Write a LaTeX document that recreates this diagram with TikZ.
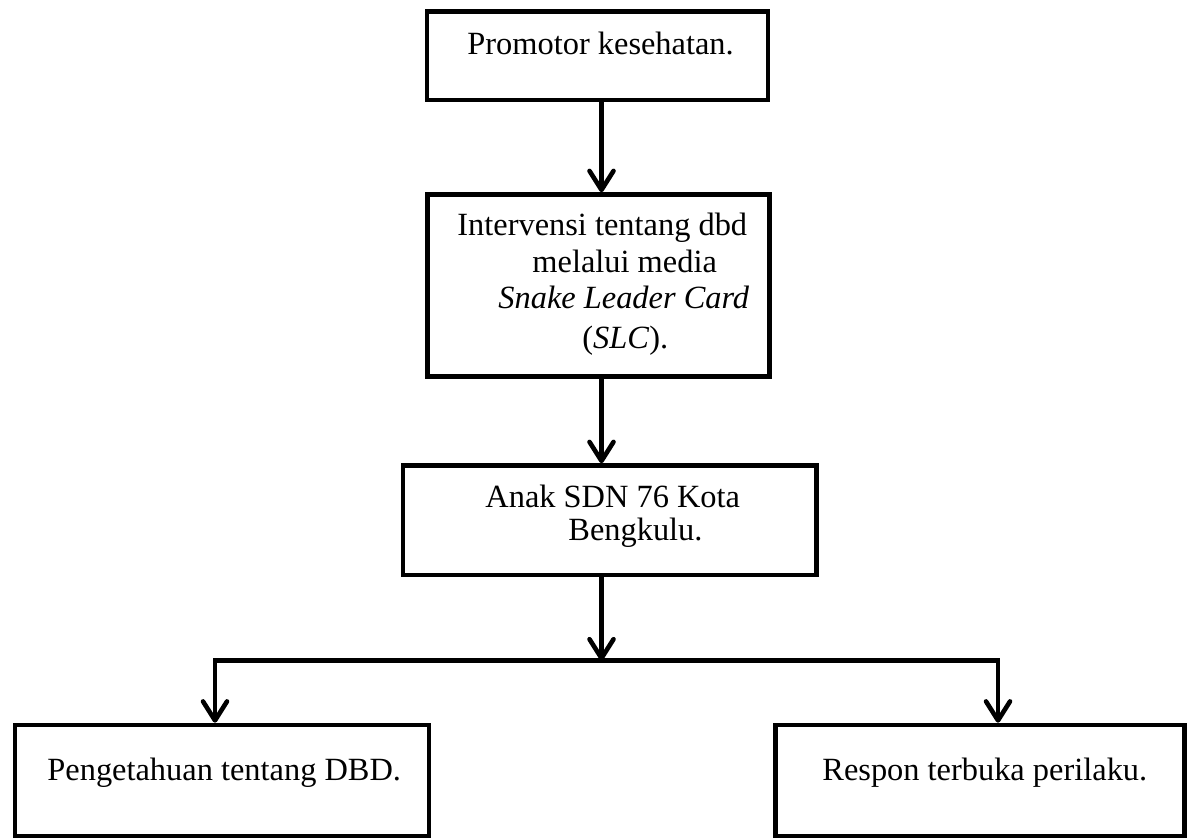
\documentclass[tikz,border=0pt]{standalone}
\usepackage{fontspec}
\setmainfont{Liberation Serif}
\usetikzlibrary{arrows.meta,fit}
\begin{document}
\begin{tikzpicture}[x=0.5pt,y=-0.5pt,
  bx/.style={draw=black, line width=2.3pt, inner sep=0pt},
  txt/.style={inner sep=0pt, anchor=base west, font=\fontsize{16.2}{19}\selectfont},
  arr/.style={line width=2.3pt, -{Straight Barb[length=9.5pt,width=12pt,round]}}]
\useasboundingbox[fill=white] (0,0) rectangle (1187,837);
% boxes
\node[bx, fit={(427,11.5)(768,100)}] (b1) {};
\node[bx, fit={(427.5,194.5)(769.5,376.5)}] (b2) {};
\node[bx, fit={(403,465.5)(816.5,575)}] (b3) {};
\node[bx, fit={(15,725)(429,836)}] (b4) {};
\node[bx, fit={(775.5,725)(1184.5,836)}] (b5) {};
% texts
\node[txt] (t1) at (467,54) {Promotor kesehatan.};
\node[txt] (t2a) at (457,235) {Intervensi tentang dbd};
\node[txt] (t2b) at (532,272) {melalui media};
\node[txt] (t2c) at (498,308) {\itshape Snake Leader Card};
\node[txt] (t2d) at (582,348) {(\textit{SLC}).};
\node[txt] (t3a) at (485,507) {Anak SDN 76 Kota};
\node[txt] (t3b) at (568,540) {Bengkulu.};
\node[txt] (t4) at (47,780) {Pengetahuan tentang DBD.};
\node[txt] (t5) at (822,780) {Respon terbuka perilaku.};
% connectors
\coordinate (ax) at (601.5,0);
\coordinate (j) at (601.5,660.5);
\coordinate (jl) at (215,660.5);
\coordinate (jr) at (998,660.5);
\draw[arr] (b1.south -| ax) -- (b2.north -| ax);
\draw[arr] (b2.south -| ax) -- (b3.north -| ax);
\draw[arr] (b3.south -| ax) -- (j);
\draw[arr] (j) -| (b4.north -| jl);
\draw[arr] (j) -| (b5.north -| jr);
\end{tikzpicture}
\end{document}
